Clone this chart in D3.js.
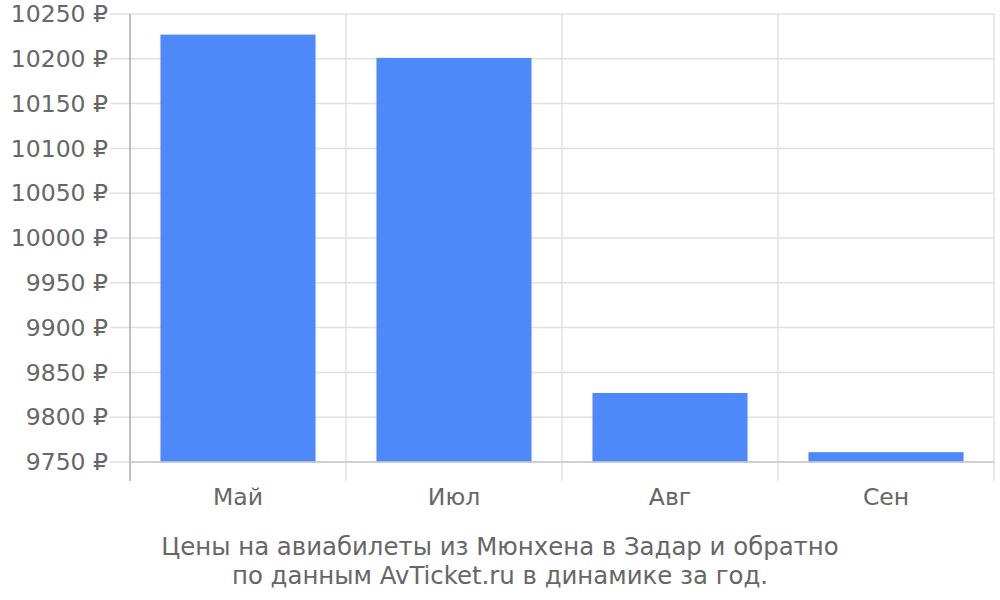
<!DOCTYPE html>
<html>
<head>
<meta charset="utf-8">
<script src="https://d3js.org/d3.v7.min.js"></script>
<style>
  body { margin: 0; background: #ffffff; }
  svg { font-family: 'DejaVu Sans', sans-serif; }
  .grid line { stroke: #e0e0e0; stroke-width: 1.5px; }
  .tick-label { fill: #666666; font-size: 23.5px; }
  .caption { fill: #666666; font-size: 24.4px; }
</style>
</head>
<body>
<script>
// Chart data
const months = ["Май", "Июл", "Авг", "Сен"];
const prices = [10227, 10201, 9827, 9761];
const yTicks = [9750, 9800, 9850, 9900, 9950, 10000, 10050, 10100, 10150, 10200, 10250];
const captionLines = [
  "Цены на авиабилеты из Мюнхена в Задар и обратно",
  "по данным AvTicket.ru в динамике за год."
];

const width = 1000, height = 600;
const margin = { top: 14, right: 6, bottom: 138, left: 130 };
const plotBottom = height - margin.bottom;

const svg = d3.select("body").append("svg")
  .attr("width", width)
  .attr("height", height);

const x = d3.scaleBand()
  .domain(months)
  .range([margin.left, width - margin.right])
  .paddingInner(0.282)
  .paddingOuter(0.141);

const y = d3.scaleLinear()
  .domain([9750, 10250])
  .range([plotBottom, margin.top]);

const step = x.step();

// horizontal gridlines with small stub on the left
svg.append("g").attr("class", "grid")
  .selectAll("line")
  .data(yTicks)
  .join("line")
  .attr("x1", margin.left - 20)
  .attr("x2", width - margin.right)
  .attr("y1", d => y(d))
  .attr("y2", d => y(d));

// vertical gridlines at category boundaries
const bounds = d3.range(months.length + 1).map(i => margin.left + i * step);
svg.append("g").attr("class", "grid")
  .selectAll("line")
  .data(bounds.slice(1))
  .join("line")
  .attr("x1", d => d)
  .attr("x2", d => d)
  .attr("y1", margin.top)
  .attr("y2", plotBottom + 19);

// bars
svg.append("g")
  .selectAll("rect")
  .data(months.map((m, i) => ({ m, v: prices[i] })))
  .join("rect")
  .attr("x", d => x(d.m))
  .attr("width", x.bandwidth())
  .attr("y", d => y(d.v))
  .attr("height", d => plotBottom - y(d.v))
  .attr("fill", "#4d89f9");

// axis lines
svg.append("line")
  .attr("x1", margin.left).attr("x2", margin.left)
  .attr("y1", margin.top).attr("y2", plotBottom + 19)
  .attr("stroke", "#aaaaaa").attr("stroke-width", 1.5);
svg.append("line")
  .attr("x1", margin.left).attr("x2", width - margin.right)
  .attr("y1", plotBottom).attr("y2", plotBottom)
  .attr("stroke", "#c8c8c8").attr("stroke-width", 1.5);

// y tick labels
svg.append("g")
  .selectAll("text")
  .data(yTicks)
  .join("text")
  .attr("class", "tick-label")
  .attr("x", 108)
  .attr("y", d => y(d))
  .attr("dy", "0.35em")
  .attr("text-anchor", "end")
  .text(d => d + " ₽");

// x labels
svg.append("g")
  .selectAll("text")
  .data(months)
  .join("text")
  .attr("class", "tick-label")
  .attr("x", d => x(d) + x.bandwidth() / 2)
  .attr("y", 505)
  .attr("text-anchor", "middle")
  .text(d => d);

// caption
svg.append("g")
  .selectAll("text")
  .data(captionLines)
  .join("text")
  .attr("class", "caption")
  .attr("x", width / 2)
  .attr("y", (d, i) => 555 + i * 29)
  .attr("text-anchor", "middle")
  .text(d => d);
</script>
</body>
</html>
